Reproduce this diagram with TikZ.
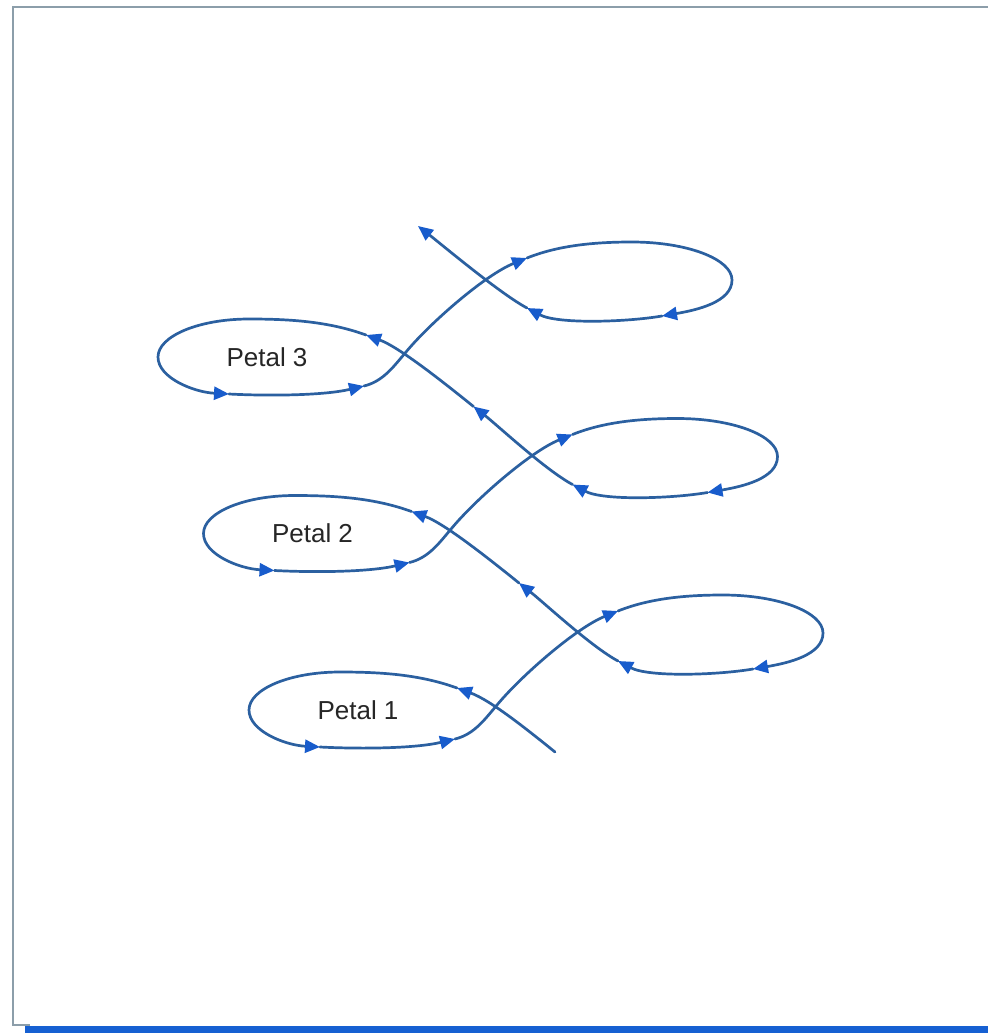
\documentclass[tikz,border=0pt]{standalone}
\usepackage{fontspec}
\setmainfont{Liberation Sans}
\usetikzlibrary{arrows.meta}
\definecolor{linec}{RGB}{43,96,160}
\definecolor{arrowc}{RGB}{24,92,204}
\definecolor{framec}{RGB}{140,158,170}
\definecolor{bandc}{RGB}{22,96,210}
\begin{document}
\begin{tikzpicture}[x=0.5pt,y=0.5pt,
  petalline/.style={draw=linec, line width=1.35pt, line cap=round},
  arrowed/.style={-{Triangle[length=7.5pt,width=6.5pt,color=arrowc]}},
  lbl/.style={font=\fontsize{13}{15}\selectfont, text=black!85, inner sep=0pt}]
\useasboundingbox (0,0) rectangle (988,-1033);
\fill[white] (0,0) rectangle (988,-1033);
\draw[framec, line width=1pt] (988,-7) -- (13,-7) -- (13,-1025) -- (30,-1025);
\fill[bandc] (25,-1025.5) rectangle (988,-1033);

\foreach \k [count=\n from 1] in {0,1,2}{
 \begin{scope}[shift={(-45.5*\k,176.5*\k)}]
  \ifnum\k=0
    \coordinate (S\k) at (555,-752);
  \else
    \coordinate (S\k) at (564.5,-759.5);
  \fi
  \ifnum\k=2
    \coordinate (M\k) at (509,-579);
    \coordinate (Mc\k) at (532.6,-597.5);
  \else
    \coordinate (M\k) at (519,-583);
    \coordinate (Mc\k) at (542.6,-601.5);
  \fi
  \coordinate (A\k) at (457,-688);
  \coordinate (T\k) at (340,-672);
  \coordinate (L\k) at (249,-710);
  \coordinate (Ba\k) at (320,-747);
  \coordinate (Bb\k) at (455,-739);
  \coordinate (X\k) at (497,-705);
  \coordinate (C\k) at (618,-611);
  \coordinate (LT\k) at (723,-595);
  \coordinate (R\k) at (823,-633);
  \coordinate (Da\k) at (753,-669);
  \coordinate (Db\k) at (618,-661);

  \node[lbl] (petal\n) at (358,-710) {Petal \n};

  \draw[petalline,arrowed] (S\k) .. controls +(-31,25) and (490,-700) .. (A\k);
  \draw[petalline,arrowed] (A\k) .. controls (419.4,-674.3) and (380,-672) .. (T\k)
      .. controls (290,-672) and (249,-689) .. (L\k)
      .. controls (249,-731) and (285,-745.2) .. (Ba\k);
  \draw[petalline,arrowed] (Ba\k) .. controls (360,-749.1) and (415,-748.5) .. (Bb\k);
  \draw[petalline,arrowed] (Bb\k) .. controls (474.4,-734.3) and (485,-719) .. (X\k)
      .. controls (521,-676) and (576,-628) .. (C\k);
  \draw[petalline,arrowed] (C\k) .. controls (650.5,-597.9) and (688,-595) .. (LT\k)
      .. controls (778,-595) and (823,-612) .. (R\k)
      .. controls (823,-655) and (788,-663) .. (Da\k);
  \draw[petalline,arrowed] (Da\k) .. controls (718,-675) and (648.9,-677.4) .. (Db\k);
  \draw[petalline,arrowed] (Db\k) .. controls (591.5,-646.9) and (Mc\k) .. (M\k);
 \end{scope}
}
\end{tikzpicture}
\end{document}
